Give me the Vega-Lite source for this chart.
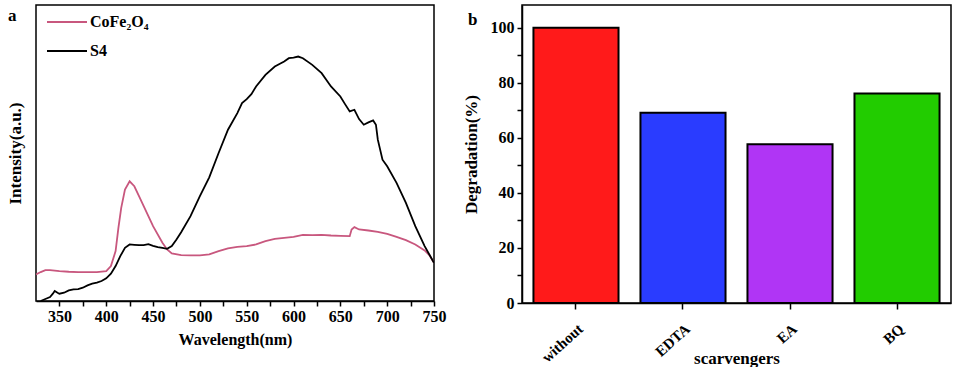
{
  "$schema": "https://vega.github.io/schema/vega-lite/v6.json",
  "padding": {"left": 5, "top": 0, "right": 4, "bottom": 0},
  "background": "white",
  "config": {
    "view": {"stroke": "black", "strokeWidth": 1.5},
    "font": "Liberation Serif",
    "axis": {"labelFont": "Liberation Serif", "titleFont": "Liberation Serif", "labelFontWeight": "bold", "titleFontWeight": "bold", "labelColor": "black", "titleColor": "black", "domainColor": "black", "tickColor": "black", "grid": false, "domainWidth": 1.5, "tickWidth": 1.5}
  },
  "hconcat": [
    {
      "width": 398,
      "height": 296,
      "title": {"text": "a", "anchor": "start", "frame": "group", "dx": -28, "dy": 24, "offset": 0, "fontSize": 17, "font": "Liberation Serif", "fontWeight": "bold", "color": "black"},
      "data": {"values": [
        {"s": "CoFe₂O₄", "w": 325, "v": 80}, {"s": "CoFe₂O₄", "w": 330, "v": 87}, {"s": "CoFe₂O₄", "w": 335, "v": 93}, {"s": "CoFe₂O₄", "w": 340, "v": 93},
        {"s": "CoFe₂O₄", "w": 350, "v": 90}, {"s": "CoFe₂O₄", "w": 360, "v": 88}, {"s": "CoFe₂O₄", "w": 370, "v": 87}, {"s": "CoFe₂O₄", "w": 380, "v": 87},
        {"s": "CoFe₂O₄", "w": 390, "v": 87}, {"s": "CoFe₂O₄", "w": 400, "v": 90}, {"s": "CoFe₂O₄", "w": 405, "v": 105}, {"s": "CoFe₂O₄", "w": 410, "v": 150},
        {"s": "CoFe₂O₄", "w": 413, "v": 220}, {"s": "CoFe₂O₄", "w": 416, "v": 280}, {"s": "CoFe₂O₄", "w": 420, "v": 335}, {"s": "CoFe₂O₄", "w": 425, "v": 360},
        {"s": "CoFe₂O₄", "w": 430, "v": 345}, {"s": "CoFe₂O₄", "w": 435, "v": 315}, {"s": "CoFe₂O₄", "w": 440, "v": 285}, {"s": "CoFe₂O₄", "w": 450, "v": 225},
        {"s": "CoFe₂O₄", "w": 460, "v": 175}, {"s": "CoFe₂O₄", "w": 465, "v": 155}, {"s": "CoFe₂O₄", "w": 470, "v": 143}, {"s": "CoFe₂O₄", "w": 480, "v": 138},
        {"s": "CoFe₂O₄", "w": 490, "v": 137}, {"s": "CoFe₂O₄", "w": 500, "v": 137}, {"s": "CoFe₂O₄", "w": 510, "v": 140}, {"s": "CoFe₂O₄", "w": 520, "v": 150},
        {"s": "CoFe₂O₄", "w": 530, "v": 158}, {"s": "CoFe₂O₄", "w": 540, "v": 163}, {"s": "CoFe₂O₄", "w": 550, "v": 165}, {"s": "CoFe₂O₄", "w": 560, "v": 170},
        {"s": "CoFe₂O₄", "w": 570, "v": 180}, {"s": "CoFe₂O₄", "w": 580, "v": 187}, {"s": "CoFe₂O₄", "w": 590, "v": 190}, {"s": "CoFe₂O₄", "w": 600, "v": 193},
        {"s": "CoFe₂O₄", "w": 610, "v": 199}, {"s": "CoFe₂O₄", "w": 620, "v": 198}, {"s": "CoFe₂O₄", "w": 630, "v": 199}, {"s": "CoFe₂O₄", "w": 640, "v": 197},
        {"s": "CoFe₂O₄", "w": 650, "v": 196}, {"s": "CoFe₂O₄", "w": 660, "v": 195}, {"s": "CoFe₂O₄", "w": 662, "v": 215}, {"s": "CoFe₂O₄", "w": 665, "v": 222},
        {"s": "CoFe₂O₄", "w": 670, "v": 215}, {"s": "CoFe₂O₄", "w": 680, "v": 212}, {"s": "CoFe₂O₄", "w": 690, "v": 208}, {"s": "CoFe₂O₄", "w": 700, "v": 202},
        {"s": "CoFe₂O₄", "w": 710, "v": 193}, {"s": "CoFe₂O₄", "w": 720, "v": 183}, {"s": "CoFe₂O₄", "w": 730, "v": 170}, {"s": "CoFe₂O₄", "w": 740, "v": 152},
        {"s": "CoFe₂O₄", "w": 745, "v": 138}, {"s": "CoFe₂O₄", "w": 750, "v": 115},
        {"s": "S4", "w": 330, "v": 0}, {"s": "S4", "w": 335, "v": 6}, {"s": "S4", "w": 340, "v": 12}, {"s": "S4", "w": 343, "v": 22},
        {"s": "S4", "w": 345, "v": 30}, {"s": "S4", "w": 348, "v": 25}, {"s": "S4", "w": 350, "v": 22}, {"s": "S4", "w": 355, "v": 25},
        {"s": "S4", "w": 360, "v": 32}, {"s": "S4", "w": 365, "v": 35}, {"s": "S4", "w": 370, "v": 36}, {"s": "S4", "w": 375, "v": 40},
        {"s": "S4", "w": 380, "v": 47}, {"s": "S4", "w": 385, "v": 52}, {"s": "S4", "w": 390, "v": 55}, {"s": "S4", "w": 395, "v": 60},
        {"s": "S4", "w": 400, "v": 68}, {"s": "S4", "w": 405, "v": 82}, {"s": "S4", "w": 410, "v": 105}, {"s": "S4", "w": 415, "v": 135},
        {"s": "S4", "w": 420, "v": 160}, {"s": "S4", "w": 425, "v": 170}, {"s": "S4", "w": 430, "v": 169}, {"s": "S4", "w": 435, "v": 168},
        {"s": "S4", "w": 440, "v": 168}, {"s": "S4", "w": 445, "v": 171}, {"s": "S4", "w": 450, "v": 166}, {"s": "S4", "w": 455, "v": 162},
        {"s": "S4", "w": 460, "v": 160}, {"s": "S4", "w": 465, "v": 157}, {"s": "S4", "w": 470, "v": 165}, {"s": "S4", "w": 475, "v": 185},
        {"s": "S4", "w": 480, "v": 207}, {"s": "S4", "w": 490, "v": 255}, {"s": "S4", "w": 500, "v": 315}, {"s": "S4", "w": 510, "v": 372},
        {"s": "S4", "w": 520, "v": 445}, {"s": "S4", "w": 530, "v": 515}, {"s": "S4", "w": 540, "v": 565}, {"s": "S4", "w": 545, "v": 595},
        {"s": "S4", "w": 550, "v": 607}, {"s": "S4", "w": 555, "v": 622}, {"s": "S4", "w": 560, "v": 645}, {"s": "S4", "w": 570, "v": 680},
        {"s": "S4", "w": 580, "v": 705}, {"s": "S4", "w": 590, "v": 720}, {"s": "S4", "w": 595, "v": 730}, {"s": "S4", "w": 600, "v": 732},
        {"s": "S4", "w": 605, "v": 735}, {"s": "S4", "w": 610, "v": 730}, {"s": "S4", "w": 620, "v": 710}, {"s": "S4", "w": 630, "v": 685},
        {"s": "S4", "w": 640, "v": 645}, {"s": "S4", "w": 650, "v": 615}, {"s": "S4", "w": 655, "v": 592}, {"s": "S4", "w": 660, "v": 570},
        {"s": "S4", "w": 665, "v": 575}, {"s": "S4", "w": 670, "v": 547}, {"s": "S4", "w": 675, "v": 530}, {"s": "S4", "w": 680, "v": 537},
        {"s": "S4", "w": 685, "v": 543}, {"s": "S4", "w": 688, "v": 530}, {"s": "S4", "w": 690, "v": 485}, {"s": "S4", "w": 695, "v": 425},
        {"s": "S4", "w": 700, "v": 405}, {"s": "S4", "w": 710, "v": 355}, {"s": "S4", "w": 720, "v": 295}, {"s": "S4", "w": 730, "v": 225},
        {"s": "S4", "w": 740, "v": 165}, {"s": "S4", "w": 745, "v": 140}, {"s": "S4", "w": 750, "v": 115}
      ]},
      "mark": {"type": "line", "clip": true, "strokeWidth": 1.8},
      "encoding": {
        "x": {"field": "w", "type": "quantitative", "scale": {"domain": [325, 750], "nice": false, "zero": false},
          "axis": {"title": "Wavelength(nm)", "values": [350, 375, 400, 425, 450, 475, 500, 525, 550, 575, 600, 625, 650, 675, 700, 725, 750],
            "labelExpr": "datum.value % 50 === 0 ? datum.label : ''", "labelFontSize": 16, "titleFontSize": 16, "tickSize": 5, "labelPadding": 2, "titlePadding": 7, "labelFlush": false, "labelOverlap": false}},
        "y": {"field": "v", "type": "quantitative", "scale": {"domain": [0, 890], "nice": false},
          "axis": {"title": "Intensity(a.u.)", "labels": false, "ticks": false, "domain": false, "titleFontSize": 17, "titlePadding": 12}},
        "color": {"field": "s", "type": "nominal", "sort": null,
          "scale": {"domain": ["CoFe₂O₄", "S4"], "range": ["#c8577e", "#000000"]},
          "legend": {"title": null, "orient": "none", "legendX": 10, "legendY": -4, "symbolType": "stroke", "symbolSize": 1600, "symbolStrokeWidth": 2,
            "labelFont": "Liberation Serif", "labelFontWeight": "bold", "labelFontSize": 16, "labelColor": "black", "labelOffset": 2, "rowPadding": -16}}
      }
    },
    {
      "width": 429,
      "height": 298,
      "title": {"text": "b", "anchor": "start", "frame": "group", "dx": -54, "dy": 24, "offset": 0, "fontSize": 17, "font": "Liberation Serif", "fontWeight": "bold", "color": "black"},
      "data": {"values": [
        {"c": "without", "d": 100},
        {"c": "EDTA", "d": 69.1},
        {"c": "EA", "d": 57.7},
        {"c": "BQ", "d": 76.1}
      ]},
      "mark": {"type": "bar", "stroke": "black", "strokeWidth": 2},
      "encoding": {
        "x": {"field": "c", "type": "nominal", "sort": null, "scale": {"paddingInner": 0.205, "paddingOuter": 0.107},
          "axis": {"title": "scarvengers", "labelAngle": -42, "labelAlign": "right", "labelBaseline": "top", "labelFontSize": 15, "titleFontSize": 17, "tickSize": 6, "labelPadding": 12, "titleY": 55, "titleBaseline": "middle"}},
        "y": {"field": "d", "type": "quantitative", "scale": {"domain": [0, 108.3], "nice": false},
          "axis": {"title": "Degradation(%)", "values": [0, 10, 20, 30, 40, 50, 60, 70, 80, 90, 100], "labelExpr": "datum.value % 20 === 0 ? datum.label : ''",
            "labelFontSize": 16, "titleFontSize": 17, "tickSize": 5, "labelPadding": 3, "titlePadding": 10}},
        "color": {"field": "c", "type": "nominal", "sort": null,
          "scale": {"domain": ["without", "EDTA", "EA", "BQ"], "range": ["#ff1a1a", "#2a3cff", "#b035f5", "#22cc00"]}, "legend": null}
      }
    }
  ],
  "spacing": 88,
  "bounds": "flush",
  "resolve": {"scale": {"color": "independent", "x": "independent", "y": "independent"}, "legend": {"color": "independent"}}
}
